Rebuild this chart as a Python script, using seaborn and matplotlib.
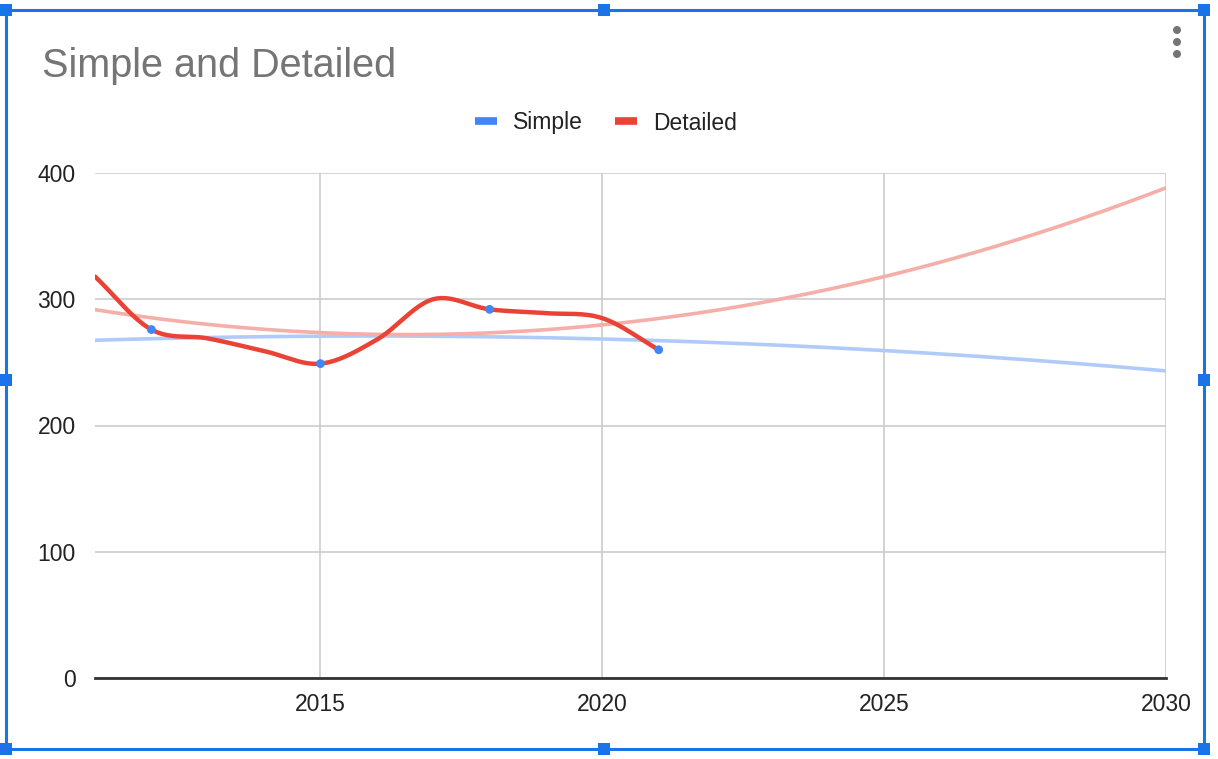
import numpy as np
import pandas as pd
import matplotlib.pyplot as plt
import seaborn as sns
from matplotlib.lines import Line2D
from matplotlib.patches import Rectangle, Ellipse

# data
years = [2011, 2012, 2013, 2014, 2015, 2016, 2017, 2018, 2019, 2020, 2021]
detailed = [318, 276, 269, 259, 249, 268, 300, 292, 289, 285, 260]
simple_years = [2012, 2015, 2018, 2021]
simple = [276, 249, 292, 260]

W, H = 1218, 759
BLUE = "#4285f4"
RED = "#ea4335"


def px(x, y):
    return x / W, 1 - y / H


def catmull_rom(x, y, n=30):
    # smooth curve through the points (like the "smooth" line option in Sheets)
    x = np.asarray(x, float)
    y = np.asarray(y, float)
    xp = np.concatenate([[2 * x[0] - x[1]], x, [2 * x[-1] - x[-2]]])
    yp = np.concatenate([[2 * y[0] - y[1]], y, [2 * y[-1] - y[-2]]])
    xs, ys = [], []
    t = np.linspace(0, 1, n, endpoint=False)
    for i in range(1, len(xp) - 2):
        for arr, out in ((xp, xs), (yp, ys)):
            p0, p1, p2, p3 = arr[i - 1], arr[i], arr[i + 1], arr[i + 2]
            out.extend(0.5 * ((2 * p1) + (-p0 + p2) * t
                              + (2 * p0 - 5 * p1 + 4 * p2 - p3) * t ** 2
                              + (-p0 + 3 * p1 - 3 * p2 + p3) * t ** 3))
    xs.append(x[-1])
    ys.append(y[-1])
    return np.array(xs), np.array(ys)


def trend(x, y, lo=2011, hi=2030):
    # polynomial (degree 2) trendline, as Sheets draws it
    x = np.asarray(x, float)
    c = np.polyfit(x - 2016, y, 2)
    xx = np.linspace(lo, hi, 300)
    return xx, np.polyval(c, xx - 2016)


sns.set_style("white")
plt.rcParams["font.family"] = ["Liberation Sans", "DejaVu Sans"]

fig = plt.figure(figsize=(W / 100, H / 100), dpi=100)
ax = fig.add_axes([95 / W, 1 - 678 / H, (1166 - 95) / W, (678 - 173) / H])

# trendlines
tx, ty = trend(simple_years, simple)
sns.lineplot(x=tx, y=ty, ax=ax, color="#b0cbfa", linewidth=2.6, zorder=2)
tx, ty = trend(years, detailed)
sns.lineplot(x=tx, y=ty, ax=ax, color="#f5aea8", linewidth=2.6, zorder=2)

# smooth detailed line
sx, sy = catmull_rom(years, detailed)
smooth = pd.DataFrame({"year": sx, "value": sy})
sns.lineplot(data=smooth, x="year", y="value", ax=ax, color=RED,
             linewidth=3.2, zorder=3, sort=False)

# simple points
sns.scatterplot(x=simple_years, y=simple, ax=ax, color=BLUE, s=40,
                edgecolor="none", zorder=4)

ax.set_xlim(2011, 2030)
ax.set_ylim(0, 400)
ax.set_xticks([2015, 2020, 2025, 2030])
ax.set_yticks([0, 100, 200, 300, 400])
ax.set_xlabel("")
ax.set_ylabel("")
ax.grid(True, color="#cccccc", linewidth=1.2)
ax.set_axisbelow(True)
for s in ["top", "right", "left"]:
    ax.spines[s].set_visible(False)
ax.spines["bottom"].set_color("#333333")
ax.spines["bottom"].set_linewidth(2)
ax.spines["bottom"].set_zorder(5)
ax.tick_params(axis="both", length=0, labelsize=16.5, labelcolor="#222222")
ax.tick_params(axis="y", pad=14)
ax.tick_params(axis="x", pad=11)

# title and legend
fig.text(*px(42, 66), "Simple and Detailed", fontsize=28.5, color="#757575",
         ha="left", va="center")
handles = [Line2D([], [], color=BLUE, linewidth=5.5, solid_capstyle="butt"),
           Line2D([], [], color=RED, linewidth=5.5, solid_capstyle="butt")]
fig.legend(handles, ["Simple", "Detailed"], loc="center", bbox_to_anchor=px(606, 123),
           ncol=2, frameon=False, fontsize=16.5, handlelength=0.95,
           handletextpad=0.7, columnspacing=1.4, labelcolor="#222222")

# three-dot menu
for yy in (30, 42, 54):
    fig.add_artist(Ellipse(px(1177, yy), 8 / W, 8 / H, transform=fig.transFigure,
                           color="#757575", ec="none"))

# selection frame of the sheet editor
frame = "#1a73e8"
fig.add_artist(Rectangle(px(6, 749), (1204 - 6) / W, (749 - 10) / H,
                         transform=fig.transFigure, fill=False, ec=frame, lw=2.2))
for hx, hy in [(6, 10), (604, 10), (1204, 10), (6, 380), (1204, 380),
               (6, 749), (604, 749), (1204, 749)]:
    fig.add_artist(Rectangle(px(hx - 6, hy + 6), 12 / W, 12 / H,
                             transform=fig.transFigure, color=frame, ec="none"))

fig.savefig("out.png", dpi=100)
